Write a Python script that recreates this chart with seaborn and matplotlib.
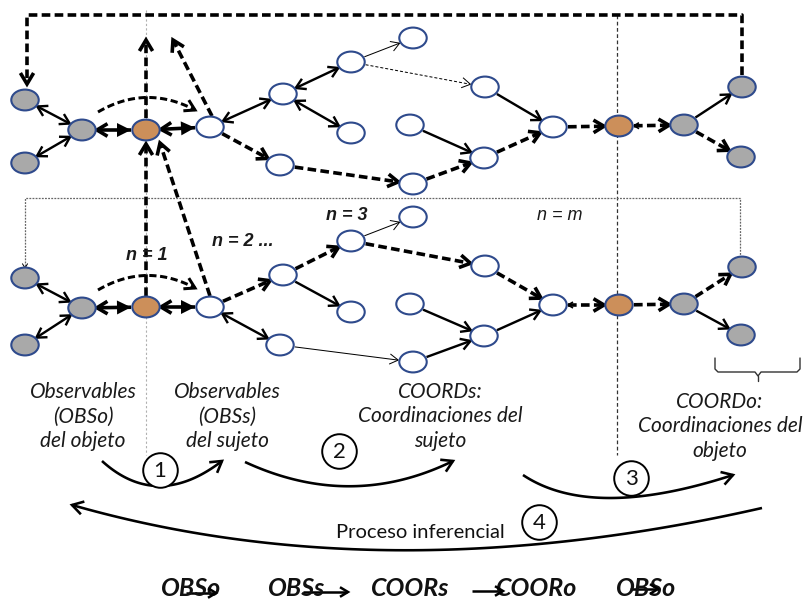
import numpy as np
import pandas as pd
import matplotlib
matplotlib.use("Agg")
import matplotlib.pyplot as plt
from matplotlib.path import Path
from matplotlib.markers import MarkerStyle
import seaborn as sns

# ---- data (pixel layout of the diagram) ----
node_names = ['g1', 'g2', 'g3', 'o1', 'A', 'B', 'C', 'D', 'E', 'F',
              'G', 'H', 'I', 'J', 'K', 'o2', 'g4', 'g5', 'g6']
node_kind = ['gray', 'gray', 'gray', 'orange', 'white', 'white', 'white', 'white', 'white', 'white',
             'white', 'white', 'white', 'white', 'white', 'orange', 'gray', 'gray', 'gray']
node_x = [25, 82, 25, 146, 210, 283, 351, 413, 351, 280,
          413, 410, 485, 484, 553, 619, 684, 742, 741]
top_y = [100, 130, 163, 130, 127, 94, 62, 38, 133, 165,
         184, 125, 87, 158, 127, 126, 125, 87, 157]
bottom_y = [278, 308, 345, 307, 307, 275, 241, 217, 312, 345,
            362, 304, 266, 336, 305, 305, 304, 267, 335]

# edges: (from, to, style, heads)
top_edges = [
    ('g1', 'g2', 'solid', 'both'), ('g3', 'g2', 'solid', 'both'),
    ('g2', 'o1', 'bold', 'both'), ('o1', 'A', 'bold', 'both'),
    ('A', 'B', 'solid', 'both'), ('B', 'C', 'solid', 'both'), ('B', 'E', 'solid', 'both'),
    ('A', 'F', 'dash', 'end'), ('F', 'G', 'dash', 'end'),
    ('C', 'D', 'thin', 'end'), ('C', 'I', 'thindash', 'end'),
    ('I', 'K', 'solid', 'end'), ('H', 'J', 'solid', 'end'),
    ('G', 'J', 'dash', 'end'), ('J', 'K', 'dash', 'end'),
    ('K', 'o2', 'dash', 'end'), ('o2', 'g4', 'dash', 'tail'),
    ('g4', 'g5', 'solid', 'end'), ('g4', 'g6', 'dash', 'end'),
]
bottom_edges = [
    ('g1', 'g2', 'solid', 'both'), ('g3', 'g2', 'solid', 'both'),
    ('g2', 'o1', 'bold', 'both'), ('o1', 'A', 'bold', 'both'),
    ('A', 'B', 'dash', 'end'), ('B', 'C', 'dash', 'end'), ('B', 'E', 'solid', 'end'),
    ('A', 'F', 'solid', 'both'), ('F', 'G', 'thin', 'end'),
    ('C', 'D', 'thin', 'end'), ('C', 'I', 'dash', 'end'), ('I', 'K', 'dash', 'end'),
    ('H', 'J', 'solid', 'end'), ('G', 'J', 'solid', 'end'), ('J', 'K', 'solid', 'end'),
    ('K', 'o2', 'dash', 'tail'), ('o2', 'g4', 'dash', 'end'),
    ('g4', 'g5', 'dash', 'end'), ('g4', 'g6', 'solid', 'end'),
]

step_labels = ['1', '2', '3', '4']
step_x = [160, 339, 631, 539]
step_y = [470, 451, 478, 522]

n_labels = ['n = 1', 'n = 2 ...', 'n = 3', 'n = m']
n_x = [147, 243, 347, 560]
n_y = [255, 242, 215, 215]

group_lines = [['Observables', '(OBSo)', 'del objeto'],
               ['Observables', '(OBSs)', 'del sujeto'],
               ['COORDs:', 'Coordinaciones del', 'sujeto'],
               ['COORDo:', 'Coordinaciones del', 'objeto']]
group_x = [83, 227, 440, 720]
group_y = [392, 392, 392, 402]

seq_words = ['OBSo', 'OBSs', 'COORs', 'COORo', 'OBSo']
seq_x = [191, 297, 410, 537, 646]

# ---- figure ----
sns.set_theme(style='white')
plt.rcParams['font.family'] = ['Lato', 'DejaVu Sans']

fig = plt.figure(figsize=(8.06, 6), dpi=100)
ax = fig.add_axes([0, 0, 1, 1])

PX = 0.72  # points per pixel
A_AX, B_AX = 13.5, 10.0

ell = Path.unit_circle().transformed(matplotlib.transforms.Affine2D().scale(1, 0.76))
ell_marker = MarkerStyle(ell)


def shrink_r(u):
    return 1.0 / np.sqrt((u[0] / A_AX) ** 2 + (u[1] / B_AX) ** 2) + 1.5


def head(tip, u, lw, kind='open', size=1.0):
    # arrow head drawn in pixel space (data units == pixels)
    tip = np.asarray(tip, float)
    n = np.array([-u[1], u[0]])
    if kind == 'filled':
        L, W = 14 * size, 7 * size
        base = tip - u * L
        tri = np.array([tip, base + n * W, base - n * W])
        ax.fill(tri[:, 0], tri[:, 1], color='black', zorder=4, lw=0)
    else:
        L, W = 10 * size, 6 * size
        base = tip - u * L
        pts = np.array([base + n * W, tip, base - n * W])
        ax.plot(pts[:, 0], pts[:, 1], color='black', lw=lw, zorder=4,
                solid_joinstyle='miter', solid_capstyle='butt')


DASH = (0, (2.4, 1.2))
styles = {
    'solid': dict(lw=2.4 * PX, ls='-'),
    'bold': dict(lw=3.6 * PX, ls='-'),
    'thin': dict(lw=1.0 * PX, ls='-'),
    'dash': dict(lw=3.6 * PX, ls=DASH),
    'thindash': dict(lw=1.0 * PX, ls=(0, (3, 2))),
}


def draw_edges(edges, xs, ys):
    pos = {n: np.array([x, y], float) for n, x, y in zip(node_names, xs, ys)}
    for a, b, st, heads in edges:
        p, q = pos[a], pos[b]
        u = (q - p) / np.linalg.norm(q - p)
        r = shrink_r(u)
        p1, q1 = p + u * r, q - u * r
        s = styles[st]
        ax.plot([p1[0], q1[0]], [p1[1], q1[1]], color='black', lw=s['lw'],
                ls=s['ls'], solid_capstyle='butt', zorder=3)
        if st == 'bold':
            head(q1, u, s['lw'], kind='filled')
        elif st in ('thin', 'thindash'):
            head(q1, u, s['lw'], size=0.85)
        elif st == 'dash':
            head(q1, u, s['lw'], size=1.05)
        else:
            head(q1, u, s['lw'], size=0.95)
        if heads == 'both':
            head(p1, -u, s['lw'], size=1.05 if st == 'bold' else 0.95)
        elif heads == 'tail':
            head(p1, -u, 1.6 * PX, size=0.5)


def bez(p0, c, p2, n=80):
    t = np.linspace(0, 1, n)[:, None]
    p0, c, p2 = map(lambda v: np.array(v, float), (p0, c, p2))
    return (1 - t) ** 2 * p0 + 2 * (1 - t) * t * c + t ** 2 * p2


def curve(p0, c, p2, lw, ls='-', size=1.0):
    pts = bez(p0, c, p2)
    ax.plot(pts[:, 0], pts[:, 1], color='black', lw=lw, ls=ls, zorder=3,
            solid_capstyle='butt')
    u = pts[-1] - pts[-4]
    u = u / np.linalg.norm(u)
    head(pts[-1], u, lw, size=size)


# guide lines
ax.plot([146, 146], [10, 455], color='#b0b0b0', lw=0.8, ls=(0, (2, 2)), zorder=1)
ax.plot([617, 617], [15, 455], color='#333333', lw=0.9, ls=(0, (3, 2)), zorder=1)
ax.plot([25, 25, 740, 740], [266, 198, 198, 265], color='#666666', lw=0.9,
        ls=(0, (1.5, 1)), zorder=1)
head((25, 268), np.array([0.0, 1.0]), 0.7, size=0.45)

# big feedback loop
dl = dict(color='black', lw=3.6 * PX, ls=DASH, zorder=3)
ax.plot([742, 742, 27, 27], [75, 15, 15, 82], **dl)
head((27, 84), np.array([0.0, 1.0]), 3.6 * PX, size=1.1)

# vertical / diagonal dashed arrows around the orange nodes
for (x0, y0), (x1, y1) in [((146, 118), (146, 40)), ((212, 116), (173, 40)),
                           ((146, 296), (146, 144)), ((210, 296), (160, 143))]:
    ax.plot([x0, x1], [y0, y1], **dl)
    u = np.array([x1 - x0, y1 - y0], float)
    u /= np.linalg.norm(u)
    head((x1, y1), u, 3.6 * PX, size=1.1)

# dashed arcs over the orange nodes
for dy in (0, 178):
    curve((98, 112 + dy), (146, 84 + dy), (195, 110 + dy), 3.0 * PX, ls=DASH, size=1.0)

draw_edges(top_edges, node_x, top_y)
draw_edges(bottom_edges, node_x, bottom_y)

# nodes
nodes = pd.DataFrame({'x': node_x * 2, 'y': top_y + bottom_y, 'kind': node_kind * 2})
palette = {'gray': '#a9a9a9', 'white': '#ffffff', 'orange': '#cc8f5a'}
sns.scatterplot(data=nodes, x='x', y='y', hue='kind', palette=palette, marker=ell_marker,
                s=390, edgecolor='#2e4a8c', linewidth=1.5, legend=False, ax=ax, zorder=5)

# n labels
for lab, x, y in zip(n_labels, n_x, n_y):
    ax.text(x, y, lab, ha='center', va='center', fontsize=13, style='italic',
            fontweight='normal' if lab == 'n = m' else 'bold',
            family=['Liberation Sans', 'DejaVu Sans'], color='#1a1a1a', zorder=6)

# group labels, one line at a time
for lines, x, y in zip(group_lines, group_x, group_y):
    for i, t in enumerate(lines):
        ax.text(x, y + i * 24.5, t, ha='center', va='center', fontsize=15,
                style='italic', color='#1a1a1a')

# curved process arrows
curve((102, 461), (157, 511), (222, 461), 2.6 * PX, size=1.1)
curve((245, 462), (351, 511), (453, 461), 2.6 * PX, size=1.1)
curve((523, 475), (592, 521), (733, 475), 2.6 * PX, size=1.1)
curve((762, 508), (383, 594), (72, 505), 2.6 * PX, size=1.1)

# step circles
steps = pd.DataFrame({'x': step_x, 'y': step_y})
sns.scatterplot(data=steps, x='x', y='y', s=620, color='white', edgecolor='black',
                linewidth=1.4, legend=False, ax=ax, zorder=6)
for lab, x, y in zip(step_labels, step_x, step_y):
    ax.text(x, y + 1, lab, ha='center', va='center', fontsize=16, color='#111111', zorder=7)

ax.text(420, 532, 'Proceso inferencial', ha='center', va='center', fontsize=14.5,
        color='#111111')

# bracket under the object nodes
ax.plot([715, 715, 718, 755, 758, 761, 797, 800, 800],
        [358, 369, 372, 372, 376, 372, 372, 369, 358], color='#333333', lw=1.0)
ax.plot([758, 758], [376, 381], color='#333333', lw=1.0)

# bottom sequence
for w, x in zip(seq_words, seq_x):
    ax.text(x, 589, w, ha='center', va='center', fontsize=18, style='italic',
            fontweight='bold', color='#111111')
for x0, x1, y in [(186, 216, 593), (303, 348, 592), (472, 503, 591), (630, 658, 589)]:
    ax.plot([x0, x1 - 1], [y, y], color='black', lw=1.8, solid_capstyle='butt')
    head((x1, y), np.array([1.0, 0.0]), 1.8, size=0.8)

ax.set_xlim(0, 806)
ax.set_ylim(600, 0)
ax.axis('off')
fig.savefig('out.png', dpi=100)
